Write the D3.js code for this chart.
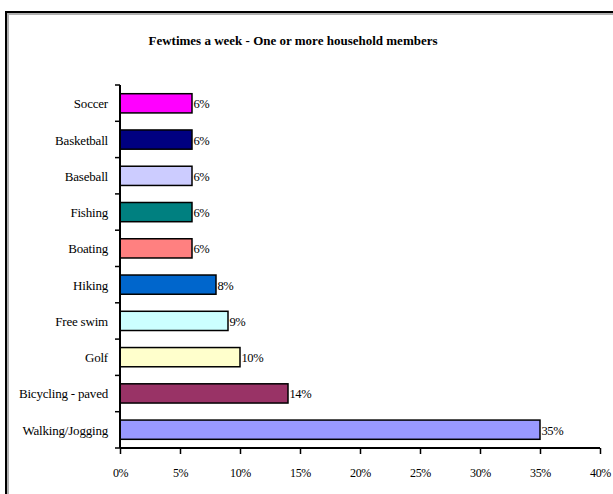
<!DOCTYPE html>
<html>
<head>
<meta charset="utf-8">
<script src="https://cdn.jsdelivr.net/npm/d3@7"></script>
<style>
  body { margin: 0; background: #fff; overflow: hidden; }
  svg { display: block; }
  text { font-family: "Liberation Serif", "DejaVu Serif", serif; fill: #000; }
</style>
</head>
<body>
<svg id="chart" width="613" height="494"></svg>
<script>
const categories = ["Soccer", "Basketball", "Baseball", "Fishing", "Boating",
    "Hiking", "Free swim", "Golf", "Bicycling - paved", "Walking/Jogging"];
const values = [6, 6, 6, 6, 6, 8, 9, 10, 14, 35];
const barColors = ["#ff00ff", "#000080", "#ccccff", "#008080", "#ff8080",
    "#0066cc", "#ccffff", "#ffffcc", "#993366", "#9999ff"];
const xTicks = [0, 5, 10, 15, 20, 25, 30, 35, 40];
const title = "Fewtimes a week - One or more household members";

const svg = d3.select("#chart");

// frame with a soft inner shadow like the original
svg.append("rect").attr("x", 8).attr("y", 14).attr("width", 640).attr("height", 520)
    .attr("fill", "none").attr("stroke", "#b0b0b0").attr("stroke-width", 2);
svg.append("rect").attr("x", 6).attr("y", 12).attr("width", 640).attr("height", 520)
    .attr("fill", "none").attr("stroke", "#000").attr("stroke-width", 2);

svg.append("text")
    .attr("x", 293).attr("y", 45)
    .attr("text-anchor", "middle")
    .attr("font-size", 13).attr("font-weight", "bold")
    .text(title);

const margin = {left: 120, right: 600, top: 85, bottom: 448};

const x = d3.scaleLinear().domain([0, 40]).range([margin.left, margin.right]);
const y = d3.scaleBand().domain(categories).range([margin.top, margin.bottom]).paddingInner(0.47).paddingOuter(0.24);

const g = svg.append("g");

g.selectAll("rect.bar")
    .data(categories)
    .join("rect")
    .attr("class", "bar")
    .attr("x", x(0))
    .attr("y", (d) => y(d))
    .attr("width", (d, i) => x(values[i]) - x(0))
    .attr("height", y.bandwidth())
    .attr("fill", (d, i) => barColors[i])
    .attr("stroke", "#000")
    .attr("stroke-width", 1.5);

g.selectAll("text.val")
    .data(categories)
    .join("text")
    .attr("class", "val")
    .attr("x", (d, i) => x(values[i]) + 1.5)
    .attr("y", (d) => y(d) + y.bandwidth() / 2 + 5)
    .attr("font-size", 12.5)
    .attr("letter-spacing", -0.4)
    .text((d, i) => values[i] + "%");

// y axis with ticks on category boundaries
const yEdges = d3.range(categories.length + 1).map((i) => margin.top + i * (margin.bottom - margin.top) / categories.length);
g.append("line").attr("x1", x(0)).attr("x2", x(0)).attr("y1", margin.top).attr("y2", margin.bottom)
    .attr("stroke", "#000").attr("stroke-width", 2);
g.selectAll("line.ytick").data(yEdges).join("line").attr("class", "ytick")
    .attr("x1", x(0) - 5).attr("x2", x(0)).attr("y1", (d) => d).attr("y2", (d) => d)
    .attr("stroke", "#000").attr("stroke-width", 1.5);

g.selectAll("text.ylab")
    .data(categories)
    .join("text")
    .attr("class", "ylab")
    .attr("x", 108)
    .attr("y", (d) => y(d) + y.bandwidth() / 2 + 5)
    .attr("text-anchor", "end")
    .attr("font-size", 13)
    .attr("letter-spacing", -0.2)
    .text((d) => d);

// x axis
const xAxis = d3.axisBottom(x).tickValues(xTicks).tickSize(6).tickPadding(14)
    .tickFormat((d) => d + "%");
const xg = svg.append("g").attr("transform", `translate(0,${margin.bottom})`).call(xAxis);
xg.select(".domain").attr("stroke-width", 2).attr("d", `M${x(0)},0H${x(40)}`);
xg.selectAll(".tick line").attr("stroke-width", 1.5);
xg.selectAll(".tick text")
    .attr("font-family", "Liberation Serif, serif")
    .attr("font-size", 12)
    .attr("letter-spacing", -0.4);
</script>
</body>
</html>
